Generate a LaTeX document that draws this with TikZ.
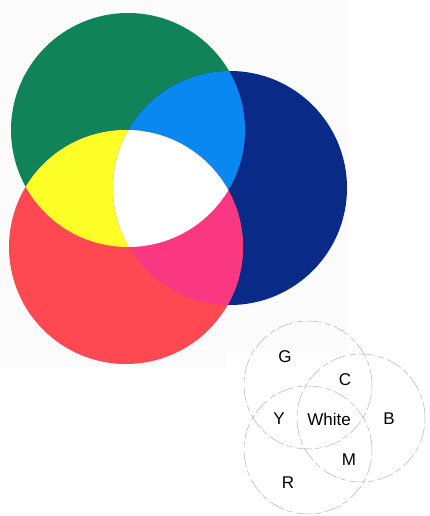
\documentclass[tikz,border=0pt]{standalone}
\usepackage{fontspec}
\newfontfamily\labfont{Liberation Sans}
\definecolor{bgcol}{RGB}{251,251,252}
\definecolor{gcol}{RGB}{16,132,88}
\definecolor{bcol}{RGB}{10,42,136}
\definecolor{rcol}{RGB}{254,72,82}
\definecolor{ccol}{RGB}{8,136,240}
\definecolor{ycol}{RGB}{255,255,40}
\definecolor{mcol}{RGB}{250,56,130}
\tikzset{
  lab/.style={font=\labfont\fontsize{17}{20}\selectfont, inner sep=0pt, text=black},
  thin circle/.style={draw=gray!60, line width=0.5pt, dash pattern=on 16pt off 3pt on 6pt off 4pt}
}
\begin{document}
\begin{tikzpicture}[x=1pt,y=-1pt]
\useasboundingbox (0,0) rectangle (430,516);
% faint scanned background
\fill[bgcol] (0,0) rectangle (348,353);
\fill[bgcol] (0,353) rectangle (227,367);
% main additive colour circles
\coordinate (Gc) at (128,130);
\coordinate (Rc) at (126,247);
\coordinate (Bc) at (230,188);
\fill[gcol] (Gc) circle (117pt);
\fill[bcol] (Bc) circle (117pt);
\fill[rcol] (Rc) circle (117pt);
\begin{scope}
  \clip (Gc) circle (117pt);
  \fill[ccol] (Bc) circle (117pt);
  \fill[ycol] (Rc) circle (117pt);
\end{scope}
\begin{scope}
  \clip (Rc) circle (117pt);
  \fill[mcol] (Bc) circle (117pt);
\end{scope}
\begin{scope}
  \clip (Gc) circle (117pt);
  \clip (Rc) circle (117pt);
  \fill[white] (Bc) circle (117pt);
\end{scope}
% key diagram
\coordinate (gc) at (308,385);
\coordinate (rc) at (308,450);
\coordinate (bc) at (361,418);
\draw[thin circle] (gc) circle (64pt);
\draw[thin circle] (rc) circle (64pt);
\draw[thin circle] (bc) circle (64pt);
\node[lab] (G) at (285,357) {G};
\node[lab] (C) at (345,380) {C};
\node[lab] (Y) at (279,419) {Y};
\node[lab] (W) at (329,419) {White};
\node[lab] (B) at (389,419) {B};
\node[lab] (M) at (349,460) {M};
\node[lab] (R) at (288,483) {R};
\end{tikzpicture}
\end{document}
